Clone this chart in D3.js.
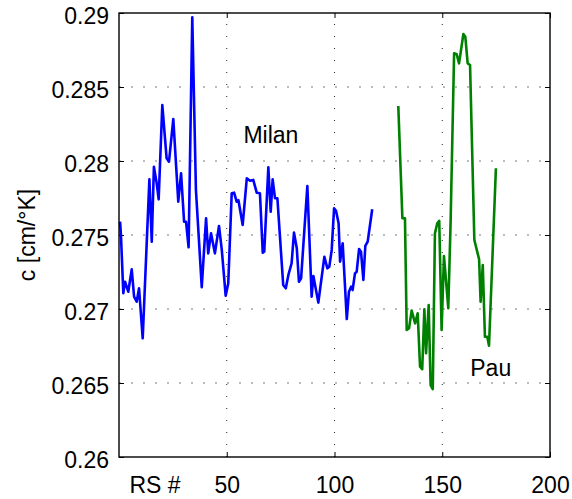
<!DOCTYPE html>
<html>
<head>
<meta charset="utf-8">
<script src="https://cdn.jsdelivr.net/npm/d3@7"></script>
<style>
  body { margin: 0; background: #fff; }
  svg text { font-family: "Liberation Sans", Arial, sans-serif; fill: #000; }
</style>
</head>
<body>
<svg id="chart"></svg>
<script>
// milan series (RS #, c)
const milanRS = [0.5, 0.9, 2.0, 2.8, 4.3, 5.9, 7.0, 8.2, 9.3, 11.0, 14.1, 15.2, 16.2, 17.5, 18.4, 20.1, 22.1, 23.2,
  25.2, 27.5, 28.8, 30.2, 31.1, 32.3, 34.0, 35.7, 38.4, 40.4, 41.4, 42.7, 44.5, 46.4, 47.7, 49.5, 50.7, 52.3,
  53.4, 54.6, 55.4, 57.4, 59.3, 60.8, 62.3, 63.9, 65.4, 66.7, 67.4, 69.3, 70.4, 71.3, 72.4, 73.5, 76.2, 77.4,
  78.6, 80.1, 81.2, 82.5, 83.5, 84.5, 87.4, 89.4, 90.2, 92.5, 95.3, 96.7, 97.6, 98.7, 99.8, 100.7, 101.9,
  102.6, 103.8, 105.7, 106.7, 107.7, 108.4, 109.5, 110.3, 111.4, 112.3, 113.4, 114.3, 115.4, 117.5];
const milanC = [0.2759, 0.2750, 0.27106, 0.27184, 0.27117, 0.27268, 0.27083, 0.27049, 0.2714, 0.26802, 0.27876,
  0.27455, 0.27961, 0.27849, 0.27741, 0.28378, 0.28018, 0.27995, 0.28284, 0.27725, 0.27917, 0.2759, 0.2759,
  0.27417, 0.28971, 0.27804, 0.27147, 0.27613, 0.27376, 0.27511, 0.27376, 0.27561, 0.27399, 0.2709, 0.27174,
  0.27782, 0.27786, 0.27725, 0.27736, 0.27568, 0.27883, 0.27867, 0.27872, 0.27786, 0.27782, 0.2738, 0.27387,
  0.27957, 0.27657, 0.27876, 0.27748, 0.27748, 0.27162, 0.2714, 0.2723, 0.27309, 0.27516, 0.2741, 0.27184,
  0.27207, 0.27831, 0.27083, 0.27223, 0.27043, 0.27353, 0.27275, 0.27286, 0.27399, 0.2768, 0.27664, 0.27579,
  0.2732, 0.27444, 0.26932, 0.27117, 0.27151, 0.27128, 0.27241, 0.27252, 0.27405, 0.27387, 0.27196, 0.27426,
  0.27455, 0.27674];

// pau series (RS #, c)
const pauRS = [129.6, 131.5, 132.7, 133.5, 134.6, 135.8, 137.4, 138.6, 139.7, 140.7, 141.7, 142.5, 143.7, 144.6,
  145.6, 146.6, 147.7, 148.6, 149.7, 150.8, 152.8, 153.9, 155.5, 156.7, 157.8, 159.8, 160.7, 161.8, 162.9,
  164.9, 167.1, 167.8, 168.8, 169.8, 170.9, 171.7, 174.9];
const pauC = [0.28372, 0.27613, 0.27613, 0.26858, 0.2687, 0.26989, 0.26903, 0.26971, 0.2661, 0.26593, 0.26998,
  0.26701, 0.27027, 0.26486, 0.26459, 0.27511, 0.27579, 0.27596, 0.26858, 0.27358, 0.27005, 0.27601, 0.28728,
  0.28721, 0.2866, 0.28858, 0.2884, 0.2866, 0.28649, 0.27466, 0.27336, 0.27049, 0.27297, 0.26813, 0.26813,
  0.26752, 0.27951];

// ticks
const xTicks = [50, 100, 150, 200];
const xTickLabels = ['50', '100', '150', '200'];
const yTicks = [0.26, 0.265, 0.27, 0.275, 0.28, 0.285, 0.29];
const yTickLabels = ['0.26', '0.265', '0.27', '0.275', '0.28', '0.285', '0.29'];

const W = 572, H = 499;
const margin = {top: 13, right: 22, bottom: 42, left: 119};
const width = W - margin.left - margin.right,
      height = H - margin.top - margin.bottom;

const svg = d3.select('#chart').attr('width', W).attr('height', H);
const g = svg.append('g')
  .attr('transform', 'translate(' + margin.left + ',' + margin.top + ')');

const x = d3.scaleLinear().domain([0, 200]).range([0, width]);
const y = d3.scaleLinear().domain([0.26, 0.29]).range([height, 0]);

// grid
g.append('g').selectAll('line')
  .data(yTicks.slice(1, -1))
  .join('line')
  .attr('x1', 0).attr('x2', width)
  .attr('y1', d => y(d)).attr('y2', d => y(d))
  .attr('stroke', '#777').attr('stroke-width', 1)
  .attr('stroke-dasharray', '2,10');

g.append('g').selectAll('line')
  .data(xTicks.slice(0, -1))
  .join('line')
  .attr('x1', d => x(d)).attr('x2', d => x(d))
  .attr('y1', height).attr('y2', 0)
  .attr('stroke', '#222').attr('stroke-width', 1)
  .attr('stroke-dasharray', '1,11');

// axes
const fontSize = 23;
const xAxis = d3.axisBottom(x).tickValues(xTicks)
  .tickFormat((d, i) => xTickLabels[i])
  .tickSizeInner(-5).tickSizeOuter(0).tickPadding(20);
const yAxis = d3.axisLeft(y).tickValues(yTicks)
  .tickFormat((d, i) => yTickLabels[i])
  .tickSizeInner(-5).tickSizeOuter(0).tickPadding(10);

const gx = g.append('g').attr('transform', 'translate(0,' + height + ')').call(xAxis);
const gy = g.append('g').call(yAxis);
[gx, gy].forEach(a => {
  a.select('.domain').remove();
  a.selectAll('.tick line').attr('stroke', '#000').attr('stroke-width', 1);
  a.selectAll('text').style('font-size', fontSize + 'px')
    .style('font-family', '"Liberation Sans", Arial, sans-serif').attr('fill', '#000');
});
gy.selectAll('text').attr('dy', '0.45em');

// opposite side ticks
g.append('g').call(d3.axisTop(x).tickValues(xTicks).tickFormat('').tickSizeInner(-5).tickSizeOuter(0))
  .call(a => a.select('.domain').remove());
g.append('g').attr('transform', 'translate(' + width + ',0)')
  .call(d3.axisRight(y).tickValues(yTicks).tickFormat('').tickSizeInner(-5).tickSizeOuter(0))
  .call(a => a.select('.domain').remove());

// lines
const line = d3.line().x(d => x(d[0])).y(d => y(d[1]));
g.append('path')
  .datum(milanRS.map((r, i) => [r, milanC[i]]))
  .attr('d', line).attr('fill', 'none')
  .attr('stroke', '#0000ff').attr('stroke-width', 2.6).attr('stroke-linejoin', 'round');
g.append('path')
  .datum(pauRS.map((r, i) => [r, pauC[i]]))
  .attr('d', line).attr('fill', 'none')
  .attr('stroke', '#008000').attr('stroke-width', 2.6).attr('stroke-linejoin', 'round');

// frame
g.append('rect').attr('width', width).attr('height', height)
  .attr('fill', 'none').attr('stroke', '#000').attr('stroke-width', 1.4);

// labels
g.append('text').attr('x', x(70.5)).attr('y', y(0.2812))
  .attr('text-anchor', 'middle').style('font-size', fontSize + 'px').text('Milan');
g.append('text').attr('x', x(172.5)).attr('y', y(0.2655))
  .attr('text-anchor', 'middle').style('font-size', fontSize + 'px').text('Pau');
svg.append('text').attr('x', 155).attr('y', 493)
  .attr('text-anchor', 'middle').style('font-size', fontSize + 'px').text('RS #');
svg.append('text')
  .attr('transform', 'translate(35,' + (margin.top + height / 2) + ') rotate(-90)')
  .attr('text-anchor', 'middle').style('font-size', fontSize + 'px').text('c [cm/°K]');
</script>
</body>
</html>
